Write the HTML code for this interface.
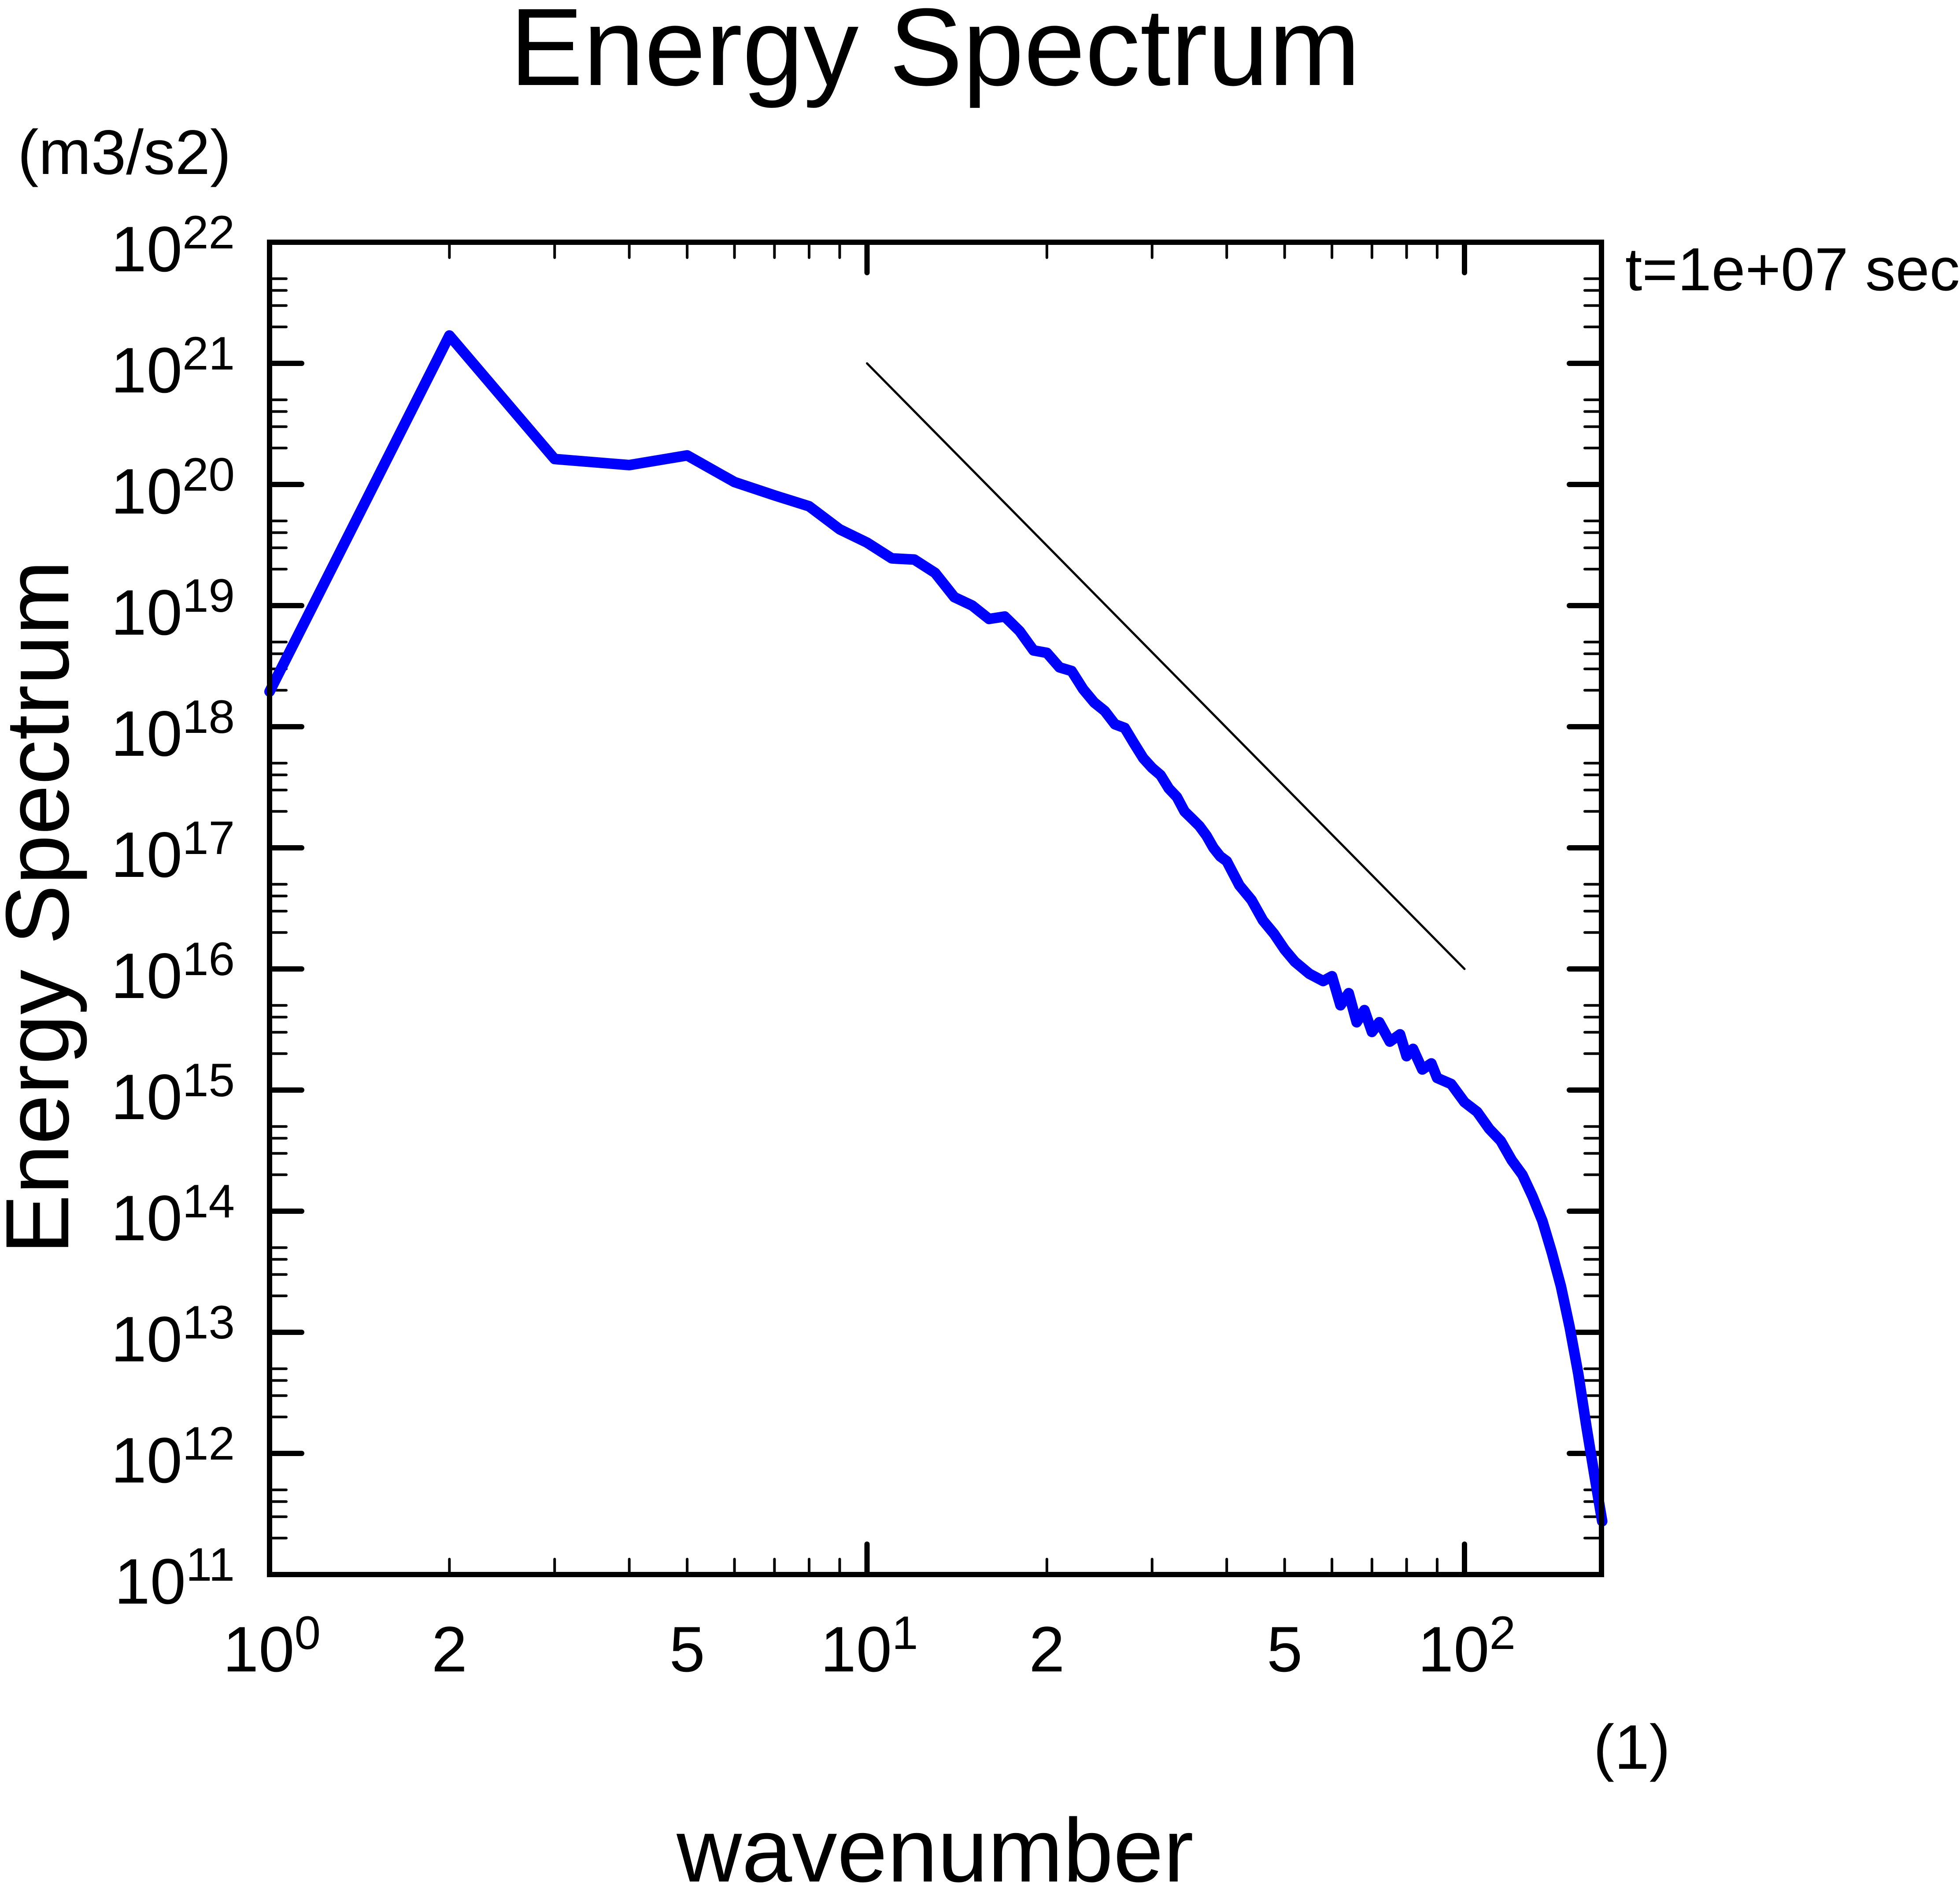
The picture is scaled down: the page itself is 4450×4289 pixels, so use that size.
<!DOCTYPE html>
<html><head><meta charset="utf-8"><style>
html,body{margin:0;padding:0;background:#fff;}
svg{display:block;font-family:"Liberation Sans",Arial,sans-serif;}
</style></head>
<body>
<svg id="chart" xmlns="http://www.w3.org/2000/svg" width="4450" height="4289" viewBox="0 0 4450 4289">
<rect width="4450" height="4289" fill="#fff"/>
<text x="2123" y="193" font-size="250" text-anchor="middle">Energy Spectrum</text>
<text x="40" y="395" font-size="143">(m3/s2)</text>
<text x="3690" y="659" font-size="138">t=1e+07 sec</text>
<text x="3705" y="4016" font-size="143" text-anchor="middle">(1)</text>
<text x="2123" y="4272" font-size="205" text-anchor="middle">wavenumber</text>
<text transform="translate(155,2060) rotate(-90)" font-size="204" text-anchor="middle">Energy Spectrum</text>
<g id="ticks"></g>
<g id="labels"></g>
<g id="series"></g>
<rect x="612" y="550" width="3024" height="3025" fill="none" stroke="#000" stroke-width="12"/>
</svg>
<script>
const kValues = [1,2,3,4,5,6,7,8,9,10,11,12,13,14,15,16,17,18,19,20,21,22,23,24,25,26,27,28,29,30,31,32,33,34,35,36,37,38,39,40,42,44,46,48,50,52,55,58,60,62,64,66,68,70,72,75,78,80,82,85,88,90,95,100,105,110,115,120,125,130,135,140,145,150,155,160,165,170];
const logEnergy = [18.29,21.23,20.21,20.16,20.24,20.02,19.91,19.82,19.63,19.52,19.39,19.38,19.27,19.07,19.0,18.89,18.91,18.79,18.63,18.61,18.49,18.46,18.31,18.20,18.13,18.02,17.99,17.86,17.74,17.66,17.60,17.49,17.42,17.30,17.24,17.18,17.10,17.0,16.93,16.89,16.69,16.57,16.40,16.29,16.16,16.06,15.96,15.90,15.94,15.70,15.80,15.56,15.66,15.48,15.56,15.40,15.46,15.28,15.34,15.17,15.22,15.10,15.05,14.90,14.82,14.68,14.58,14.42,14.30,14.12,13.92,13.66,13.38,13.04,12.66,12.22,11.82,11.44];
const refK = [10,100];
const refLogE = [21,16];
const xTickValues = [1,2,5,10,20,50,100];
const xTickBase = ["10","2","5","10","2","5","10"];
const xTickExp = ["0","","","1","","","2"];
const yTickExps = [11,12,13,14,15,16,17,18,19,20,21,22];
const yMinorMults = [2,3,4,5];

const L=612,R=3636,T=550,B=3575,XDEC=1356.5,YMIN=11,YMAX=22;
function xs(k){return L+Math.log10(k)*XDEC;}
function ys(le){return B-(le-YMIN)*(B-T)/(YMAX-YMIN);}
const NS="http://www.w3.org/2000/svg";
function mk(tag,attrs,parent){const e=document.createElementNS(NS,tag);for(const a in attrs)e.setAttribute(a,attrs[a]);parent.appendChild(e);return e;}
const ticks=document.getElementById('ticks'),labels=document.getElementById('labels'),series=document.getElementById('series');

function yTick(v,major){
  const y=ys(v), len=major?73:38, w=major?12:6;
  const t1=mk('line',{x1:L,x2:L+len,y1:y,y2:y,stroke:'#000','stroke-width':w,'stroke-linecap':'round'},ticks);
  
  
  const t2=mk('line',{x1:R,x2:R-len,y1:y,y2:y,stroke:'#000','stroke-width':w,'stroke-linecap':'round'},ticks);
  
  
}
for(let d=YMIN;d<=YMAX;d++){
  yTick(d,true);
  if(d<YMAX) yMinorMults.forEach(m=>yTick(d+Math.log10(m),false));
}
// x ticks
for(let d=0;d<=2;d++){
  for(let m=1;m<=9;m++){
    const k=m*Math.pow(10,d); const x=xs(k); if(x>R) break;
    const len=m===1?69:35, w=m===1?12:6;
    const t1=mk('line',{x1:x,x2:x,y1:B,y2:B-len,stroke:'#000','stroke-width':w,'stroke-linecap':'round'},ticks);
    
    
    const t2=mk('line',{x1:x,x2:x,y1:T,y2:T+len,stroke:'#000','stroke-width':w,'stroke-linecap':'round'},ticks);
    
    
  }
}
// y labels
yTickExps.forEach(e=>{
  const y=ys(e);
  const t=mk('text',{x:533,y:y+66,'font-size':146,'text-anchor':'end'},labels);
  
  
  t.appendChild(document.createTextNode('10'));
  const s=mk('tspan',{dy:-52,'font-size':107},t); s.textContent=String(e);
});
// x labels
xTickValues.forEach((k,i)=>{
  const x=xs(k);
  const t=mk('text',{x:x+(xTickExp[i]?5:0),y:3795,'font-size':146,'text-anchor':'middle'},labels);
  
  
  t.appendChild(document.createTextNode(xTickBase[i]));
  if(xTickExp[i]){const s=mk('tspan',{dy:-51,'font-size':107},t);s.textContent=xTickExp[i];}
});
// reference line
const ref=mk('line',{x1:xs(refK[0]),y1:ys(refLogE[0]),x2:xs(refK[1]),y2:ys(refLogE[1]),stroke:'#000','stroke-width':5,'stroke-linecap':'round'},series);


// spectrum
const pts=kValues.map((k,i)=>xs(k).toFixed(1)+','+ys(logEnergy[i]).toFixed(1)).join(' ');
const pl=mk('polyline',{points:pts,fill:'none',stroke:'#0000ff','stroke-width':24,'stroke-linejoin':'round','stroke-linecap':'round'},series);


</script>
</body></html>
